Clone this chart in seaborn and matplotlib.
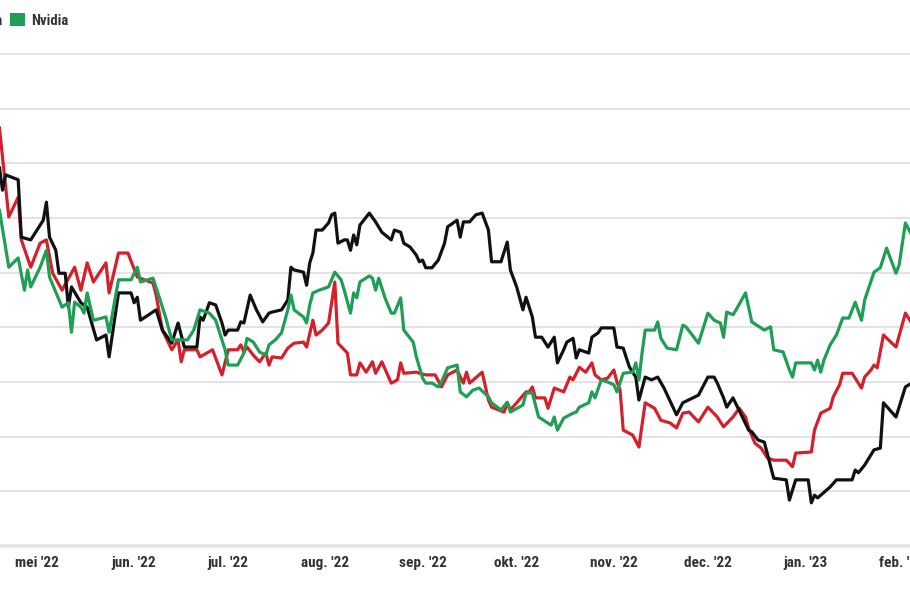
import matplotlib
matplotlib.use("Agg")
import matplotlib.pyplot as plt
from matplotlib import font_manager as fm
from matplotlib.patches import Patch
import pandas as pd
import seaborn as sns

# ---------------- data ----------------
series_names = ["AMD", "Tesla", "Nvidia"]
series_colors = ["#d3202c", "#111111", "#1f9e55"]

amd_dates = [
    "2022-04-19", "2022-04-22", "2022-04-25", "2022-04-26", "2022-04-29", "2022-05-02", "2022-05-04", "2022-05-06", "2022-05-09", "2022-05-13",
    "2022-05-15", "2022-05-17", "2022-05-19", "2022-05-23", "2022-05-24", "2022-05-27", "2022-05-30", "2022-06-02", "2022-06-07", "2022-06-08",
    "2022-06-10", "2022-06-13", "2022-06-15", "2022-06-16", "2022-06-17", "2022-06-21", "2022-06-22", "2022-06-26", "2022-06-29", "2022-07-01",
    "2022-07-04", "2022-07-05", "2022-07-06", "2022-07-07", "2022-07-09", "2022-07-11", "2022-07-13", "2022-07-14", "2022-07-15", "2022-07-18",
    "2022-07-20", "2022-07-22", "2022-07-25", "2022-07-26", "2022-07-28", "2022-07-29", "2022-07-31", "2022-08-02", "2022-08-04", "2022-08-05",
    "2022-08-08", "2022-08-09", "2022-08-11", "2022-08-12", "2022-08-14", "2022-08-16", "2022-08-17", "2022-08-19", "2022-08-22", "2022-08-24",
    "2022-08-25", "2022-08-26", "2022-08-30", "2022-08-31", "2022-09-02", "2022-09-05", "2022-09-07", "2022-09-09", "2022-09-12", "2022-09-14",
    "2022-09-15", "2022-09-16", "2022-09-20", "2022-09-22", "2022-09-23", "2022-09-27", "2022-09-28", "2022-09-29", "2022-10-01", "2022-10-04",
    "2022-10-05", "2022-10-06", "2022-10-07", "2022-10-10", "2022-10-11", "2022-10-13", "2022-10-16", "2022-10-18", "2022-10-19", "2022-10-21",
    "2022-10-23", "2022-10-25", "2022-10-26", "2022-10-28", "2022-10-30", "2022-11-01", "2022-11-02", "2022-11-03", "2022-11-04", "2022-11-07",
    "2022-11-09", "2022-11-11", "2022-11-14", "2022-11-16", "2022-11-19", "2022-11-21", "2022-11-23", "2022-11-25", "2022-11-28", "2022-12-01",
    "2022-12-04", "2022-12-06", "2022-12-09", "2022-12-11", "2022-12-13", "2022-12-14", "2022-12-16", "2022-12-18", "2022-12-20", "2022-12-22",
    "2022-12-26", "2022-12-28", "2022-12-29", "2023-01-03", "2023-01-04", "2023-01-06", "2023-01-09", "2023-01-10", "2023-01-12", "2023-01-13",
    "2023-01-16", "2023-01-18", "2023-01-19", "2023-01-20", "2023-01-22", "2023-01-23", "2023-01-24", "2023-01-26", "2023-01-30", "2023-02-02",
    "2023-02-04",
]
amd_values = [
    76.6, 60.2, 63.8, 56.0, 51.0, 55.4, 56.0, 49.9, 46.8, 51.0,
    46.8, 51.8, 48.3, 51.8, 46.3, 53.6, 53.6, 49.2, 48.1, 45.9,
    39.5, 35.9, 37.7, 33.7, 35.9, 35.9, 34.6, 35.9, 31.3, 35.9,
    35.9, 36.8, 35.5, 36.4, 34.9, 33.7, 35.3, 33.1, 34.6, 34.4,
    36.2, 37.1, 37.3, 36.4, 41.3, 38.6, 39.5, 40.8, 48.3, 37.1,
    35.3, 31.3, 31.3, 33.5, 31.8, 33.7, 31.6, 33.7, 29.8, 30.4,
    33.5, 31.6, 31.8, 31.6, 31.3, 31.3, 29.1, 31.3, 32.2, 29.8,
    31.8, 29.8, 31.8, 26.7, 25.4, 24.5, 26.2, 24.9, 26.2, 28.2,
    28.2, 29.1, 27.1, 27.1, 25.2, 28.9, 28.2, 30.9, 30.4, 32.7,
    31.8, 33.5, 31.3, 30.4, 30.7, 32.2, 30.0, 28.5, 21.2, 20.3,
    18.1, 26.2, 25.2, 23.0, 22.5, 21.6, 24.3, 24.5, 22.7, 25.4,
    23.6, 21.8, 23.6, 25.2, 23.6, 21.6, 18.8, 17.9, 16.1, 15.7,
    15.7, 14.5, 17.0, 17.2, 21.2, 24.3, 25.2, 27.3, 29.5, 31.6,
    31.6, 29.8, 28.9, 30.9, 32.2, 33.1, 32.6, 38.6, 36.4, 42.6,
    40.8,
]

tesla_dates = [
    "2022-04-19", "2022-04-20", "2022-04-21", "2022-04-25", "2022-04-26", "2022-04-29", "2022-05-02", "2022-05-03", "2022-05-04", "2022-05-05",
    "2022-05-07", "2022-05-08", "2022-05-10", "2022-05-11", "2022-05-12", "2022-05-15", "2022-05-17", "2022-05-20", "2022-05-23", "2022-05-24",
    "2022-05-27", "2022-05-31", "2022-06-01", "2022-06-02", "2022-06-03", "2022-06-08", "2022-06-10", "2022-06-13", "2022-06-15", "2022-06-17",
    "2022-06-21", "2022-06-22", "2022-06-23", "2022-06-25", "2022-06-27", "2022-06-29", "2022-06-30", "2022-07-01", "2022-07-04", "2022-07-05",
    "2022-07-06", "2022-07-08", "2022-07-10", "2022-07-12", "2022-07-14", "2022-07-15", "2022-07-18", "2022-07-20", "2022-07-21", "2022-07-22",
    "2022-07-25", "2022-07-26", "2022-07-27", "2022-07-28", "2022-07-29", "2022-07-31", "2022-08-02", "2022-08-03", "2022-08-04", "2022-08-05",
    "2022-08-07", "2022-08-08", "2022-08-09", "2022-08-10", "2022-08-11", "2022-08-12", "2022-08-15", "2022-08-17", "2022-08-19", "2022-08-22",
    "2022-08-23", "2022-08-25", "2022-08-26", "2022-08-28", "2022-08-30", "2022-08-31", "2022-09-01", "2022-09-02", "2022-09-04", "2022-09-06",
    "2022-09-08", "2022-09-09", "2022-09-12", "2022-09-13", "2022-09-14", "2022-09-16", "2022-09-18", "2022-09-20", "2022-09-22", "2022-09-23",
    "2022-09-26", "2022-09-28", "2022-09-29", "2022-10-01", "2022-10-03", "2022-10-04", "2022-10-06", "2022-10-07", "2022-10-09", "2022-10-11",
    "2022-10-13", "2022-10-14", "2022-10-16", "2022-10-17", "2022-10-19", "2022-10-20", "2022-10-21", "2022-10-24", "2022-10-25", "2022-10-27",
    "2022-10-28", "2022-11-01", "2022-11-02", "2022-11-04", "2022-11-05", "2022-11-06", "2022-11-08", "2022-11-09", "2022-11-11", "2022-11-13",
    "2022-11-15", "2022-11-17", "2022-11-21", "2022-11-23", "2022-11-28", "2022-12-01", "2022-12-03", "2022-12-04", "2022-12-06", "2022-12-07",
    "2022-12-09", "2022-12-12", "2022-12-14", "2022-12-15", "2022-12-17", "2022-12-19", "2022-12-22", "2022-12-26", "2022-12-27", "2022-12-29",
    "2023-01-02", "2023-01-03", "2023-01-04", "2023-01-05", "2023-01-09", "2023-01-11", "2023-01-16", "2023-01-17", "2023-01-18", "2023-01-20",
    "2023-01-23", "2023-01-25", "2023-01-26", "2023-01-30", "2023-02-02", "2023-02-04",
]
tesla_values = [
    69.3, 65.1, 67.9, 67.0, 56.5, 56.0, 58.7, 59.6, 62.9, 56.5,
    54.1, 49.9, 49.9, 43.7, 47.4, 44.5, 43.7, 37.7, 38.6, 34.6,
    46.3, 46.3, 44.5, 45.5, 41.3, 43.2, 39.5, 37.1, 40.8, 36.4,
    36.4, 41.9, 41.3, 44.5, 44.1, 40.8, 38.6, 39.5, 39.5, 41.0,
    40.8, 45.9, 43.2, 41.0, 42.6, 42.8, 43.2, 45.0, 51.0, 50.5,
    50.1, 47.7, 51.8, 53.6, 57.8, 57.8, 59.1, 60.6, 60.9, 55.4,
    56.0, 56.0, 54.1, 56.9, 55.1, 58.7, 60.9, 59.3, 57.4, 56.0,
    57.8, 57.4, 55.4, 54.7, 53.2, 52.0, 52.3, 50.9, 50.9, 52.3,
    55.4, 58.4, 59.6, 56.5, 59.3, 59.3, 60.6, 60.9, 57.8, 52.0,
    52.0, 55.6, 50.5, 47.4, 43.2, 45.5, 41.9, 38.2, 38.2, 36.4,
    38.2, 33.5, 35.9, 37.3, 38.0, 34.4, 35.9, 35.3, 38.2, 39.0,
    39.9, 39.9, 36.4, 36.2, 34.4, 32.7, 30.9, 26.7, 30.9, 30.4,
    30.9, 28.9, 24.0, 26.2, 27.6, 30.9, 30.9, 29.8, 27.1, 25.4,
    27.1, 23.6, 21.2, 20.9, 19.4, 19.0, 12.4, 12.1, 8.4, 12.1,
    12.1, 7.9, 9.3, 8.8, 10.8, 12.1, 12.1, 13.9, 13.4, 14.8,
    17.6, 17.9, 26.2, 23.6, 29.1, 29.8,
]

nvidia_dates = [
    "2022-04-19", "2022-04-22", "2022-04-25", "2022-04-27", "2022-04-28", "2022-04-29", "2022-05-02", "2022-05-04", "2022-05-05", "2022-05-09",
    "2022-05-11", "2022-05-12", "2022-05-13", "2022-05-15", "2022-05-16", "2022-05-17", "2022-05-19", "2022-05-23", "2022-05-24", "2022-05-27",
    "2022-05-31", "2022-06-02", "2022-06-03", "2022-06-07", "2022-06-09", "2022-06-11", "2022-06-13", "2022-06-16", "2022-06-18", "2022-06-20",
    "2022-06-22", "2022-06-25", "2022-06-27", "2022-06-30", "2022-07-01", "2022-07-04", "2022-07-06", "2022-07-07", "2022-07-09", "2022-07-11",
    "2022-07-13", "2022-07-14", "2022-07-16", "2022-07-18", "2022-07-20", "2022-07-21", "2022-07-22", "2022-07-25", "2022-07-26", "2022-07-27",
    "2022-07-28", "2022-07-30", "2022-08-02", "2022-08-04", "2022-08-06", "2022-08-07", "2022-08-09", "2022-08-10", "2022-08-11", "2022-08-12",
    "2022-08-15", "2022-08-16", "2022-08-17", "2022-08-18", "2022-08-20", "2022-08-22", "2022-08-23", "2022-08-25", "2022-08-26", "2022-08-29",
    "2022-08-30", "2022-09-01", "2022-09-02", "2022-09-04", "2022-09-06", "2022-09-07", "2022-09-09", "2022-09-12", "2022-09-13", "2022-09-15",
    "2022-09-17", "2022-09-19", "2022-09-22", "2022-09-23", "2022-09-26", "2022-09-28", "2022-09-29", "2022-10-03", "2022-10-04", "2022-10-06",
    "2022-10-08", "2022-10-12", "2022-10-13", "2022-10-14", "2022-10-16", "2022-10-19", "2022-10-20", "2022-10-21", "2022-10-24", "2022-10-25",
    "2022-10-26", "2022-10-28", "2022-10-30", "2022-11-01", "2022-11-02", "2022-11-04", "2022-11-07", "2022-11-08", "2022-11-09", "2022-11-10",
    "2022-11-11", "2022-11-14", "2022-11-15", "2022-11-16", "2022-11-18", "2022-11-21", "2022-11-23", "2022-11-24", "2022-11-28", "2022-12-01",
    "2022-12-03", "2022-12-05", "2022-12-06", "2022-12-07", "2022-12-09", "2022-12-10", "2022-12-13", "2022-12-15", "2022-12-19", "2022-12-21",
    "2022-12-22", "2022-12-25", "2022-12-27", "2022-12-28", "2022-12-29", "2023-01-03", "2023-01-04", "2023-01-05", "2023-01-06", "2023-01-07",
    "2023-01-09", "2023-01-11", "2023-01-13", "2023-01-15", "2023-01-17", "2023-01-19", "2023-01-20", "2023-01-23", "2023-01-25", "2023-01-27",
    "2023-01-30", "2023-01-31", "2023-02-02", "2023-02-04",
]
nvidia_values = [
    61.5, 51.0, 52.7, 46.8, 50.5, 47.4, 51.0, 54.1, 49.2, 43.7,
    44.5, 39.1, 44.6, 43.7, 42.6, 46.3, 41.3, 41.9, 39.1, 48.7,
    48.7, 51.0, 48.3, 49.0, 45.5, 41.9, 37.7, 37.7, 37.7, 39.5,
    43.2, 42.6, 41.3, 35.9, 33.1, 33.1, 35.3, 38.0, 37.3, 35.5,
    34.9, 36.8, 37.7, 39.0, 43.2, 45.9, 43.2, 41.9, 40.8, 44.1,
    46.3, 46.8, 47.4, 50.1, 48.7, 46.8, 42.6, 46.3, 45.4, 48.3,
    49.4, 49.0, 46.8, 49.0, 45.4, 42.6, 42.6, 45.4, 39.5, 37.3,
    34.6, 30.7, 29.8, 29.8, 29.1, 30.0, 32.6, 33.1, 28.2, 27.3,
    28.5, 28.9, 27.3, 26.2, 24.9, 26.3, 24.5, 25.8, 28.0, 28.0,
    23.6, 22.1, 23.6, 21.2, 23.4, 24.3, 24.5, 25.4, 26.2, 28.2,
    27.1, 30.4, 30.0, 29.5, 28.2, 31.6, 31.8, 33.5, 30.4, 35.3,
    39.5, 39.5, 41.0, 38.0, 36.2, 35.9, 40.4, 40.1, 37.1, 42.6,
    41.3, 40.8, 38.2, 42.8, 42.3, 43.2, 46.3, 41.0, 39.5, 40.1,
    35.9, 35.5, 32.2, 30.9, 33.5, 33.5, 32.2, 34.0, 31.8, 34.0,
    36.8, 38.6, 41.7, 41.7, 44.6, 41.3, 45.0, 50.1, 50.9, 54.5,
    49.9, 51.4, 59.1, 56.9,
]

month_ticks = ["2022-05-01", "2022-06-01", "2022-07-01", "2022-08-01", "2022-09-01",
               "2022-10-01", "2022-11-01", "2022-12-01", "2023-01-01", "2023-02-01"]
month_labels = ["mei '22", "jun. '22", "jul. '22", "aug. '22", "sep. '22",
                "okt. '22", "nov. '22", "dec. '22", "jan. '23", "feb. '23"]
grid_values = [10, 20, 30, 40, 50, 60, 70, 80, 90]

# ---------------- styling ----------------
sns.set_theme(style="white")
avail = {f.name for f in fm.fontManager.ttflist}
family = "DejaVu Sans"
for cand in ["Roboto Condensed", "Liberation Sans Narrow", "Open Sans Condensed", "Roboto"]:
    if cand in avail:
        family = cand
        break
plt.rcParams["font.family"] = [family, "DejaVu Sans"]
TXT = "#333333"

frames = []
for name, d, v in [("AMD", amd_dates, amd_values),
                   ("Tesla", tesla_dates, tesla_values),
                   ("Nvidia", nvidia_dates, nvidia_values)]:
    frames.append(pd.DataFrame({"date": pd.to_datetime(d), "value": v, "series": name}))
df = pd.concat(frames, ignore_index=True)

W, H = 910, 596
fig = plt.figure(figsize=(W / 100, H / 100), dpi=100)
ax = fig.add_axes([0, 50 / H, 1, 516 / H])

sns.lineplot(data=df, x="date", y="value", hue="series", hue_order=series_names,
             palette=dict(zip(series_names, series_colors)), estimator=None,
             linewidth=2.3, legend=False, ax=ax)

ax.set_xlim(pd.Timestamp("2022-04-19 04:48"), pd.Timestamp("2023-02-03 11:15"))
ax.set_ylim(0, 94.4)
ax.set_yticks(grid_values)
ax.yaxis.grid(True, color="#dedede", linewidth=1.2)
ax.xaxis.grid(False)
ax.tick_params(axis="y", length=0, labelleft=False)
ax.set_xticks(pd.to_datetime(month_ticks))
ax.set_xticklabels(month_labels)
ax.tick_params(axis="x", length=0, pad=7.5, labelsize=11, labelcolor=TXT)
for lbl in ax.get_xticklabels():
    lbl.set_fontweight("bold")
for s in ["top", "left", "right"]:
    ax.spines[s].set_visible(False)
ax.spines["bottom"].set_color("#e3e3e3")
ax.spines["bottom"].set_linewidth(2.6)
ax.set_xlabel("")
ax.set_ylabel("")
ax.set_facecolor("white")

handles = [Patch(facecolor=c, edgecolor="none", label=n) for n, c in zip(series_names, series_colors)]
leg = fig.legend(handles=handles, loc="upper left", bbox_to_anchor=(0, 0.98),
                 bbox_transform=fig.transFigure, ncol=3, frameon=False,
                 handlelength=1.0, handleheight=1.0, handletextpad=0.45,
                 columnspacing=0.5, borderpad=0, borderaxespad=0,
                 prop={"weight": "bold", "size": 10.5})
for t in leg.get_texts():
    t.set_color(TXT)

# shift the legend so the Nvidia square sits where it does in the reference
fig.canvas.draw()
r = fig.canvas.get_renderer()
bb = leg.legend_handles[2].get_window_extent(r)
dx = 10 - bb.x0
dy = (H - 13) - bb.y1
leg.set_bbox_to_anchor((dx / W, 0.98 + dy / H), transform=fig.transFigure)

fig.savefig("out.png", dpi=100, facecolor="white")
